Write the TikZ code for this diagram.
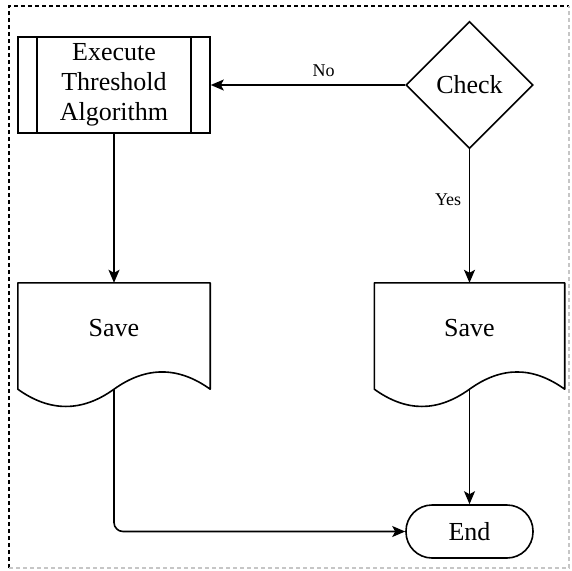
\documentclass[tikz,border=0pt]{standalone}
\usepackage{fontspec}
\setmainfont{Liberation Serif}
\usetikzlibrary{shapes.geometric,arrows.meta}

\tikzset{
  mainfont/.style={font=\fontsize{26}{30}\selectfont},
  box/.style={draw, line width=1.6pt, minimum width=192pt, inner sep=0pt,
    mainfont, align=center},
  docframe/.style={minimum width=192pt, minimum height=106pt, inner sep=0pt},
  doclabel/.style={mainfont},
  decision/.style={draw, diamond, aspect=1, minimum size=127pt, inner sep=0pt,
    line width=1.6pt, mainfont},
  terminal/.style={draw, rounded corners=26pt, minimum width=127pt,
    minimum height=53pt, inner sep=0pt, line width=1.6pt, mainfont},
  arr/.style={line width=1.6pt, -{Stealth[length=13pt,width=11pt,inset=3pt]}},
  edgelabel/.style={font=\fontsize{18}{21}\selectfont, inner sep=4pt},
  docline/.style={line width=1.6pt, line join=round}
}

\begin{document}
\begin{tikzpicture}[x=1pt, y=-1pt]
\useasboundingbox (0,0) rectangle (572,570);

% outer dashed frame
\draw[line width=1.2pt, dash pattern=on 4pt off 3pt] (9,568) -- (9,6) -- (569,6);
\draw[line width=1.2pt, gray!45, dash pattern=on 4pt off 3pt] (9,568) -- (569,568) -- (569,6);

% predefined process
\node[box, minimum height=96pt] (exec) at (114,85) {Execute\\Threshold\\Algorithm};
\draw[line width=1.6pt] ([xshift=20pt]exec.north west) -- ([xshift=20pt]exec.south west);
\draw[line width=1.6pt] ([xshift=-20pt]exec.north east) -- ([xshift=-20pt]exec.south east);

% decision
\node[decision] (check) at (469.5,85) {Check};

% documents
\node[docframe] (saveL) at (114,336) {};
\node[docframe, minimum width=190pt] (saveR) at (469.5,336) {};
\draw[docline] (saveL.north west) -- (saveL.south west)
  .. controls +(32,23) and +(-32,23) .. (saveL.south)
  .. controls +(32,-23) and +(-32,-23) .. (saveL.south east)
  -- (saveL.north east) -- cycle;
\draw[docline] (saveR.north west) -- (saveR.south west)
  .. controls +(32,23) and +(-32,23) .. (saveR.south)
  .. controls +(32,-23) and +(-32,-23) .. (saveR.south east)
  -- (saveR.north east) -- cycle;
\node[doclabel] (saveLtext) at ([yshift=8pt]saveL.center) {Save};
\node[doclabel] (saveRtext) at ([yshift=8pt]saveR.center) {Save};

% terminal
\node[terminal] (end) at (469.5,531.5) {End};

% connectors
\draw[arr] (check.west) -- node[edgelabel, above, pos=0.42, yshift=4pt] {No} (exec.east);
\draw[arr] (check.south) -- node[edgelabel, left, pos=0.375, xshift=-3.5pt] {Yes} (saveR.north);
\draw[arr] (exec.south) -- (saveL.north);
\draw[arr] (saveR.south) -- (end.north);
\draw[arr, rounded corners=9pt] (saveL.south) |- (end.west);
\end{tikzpicture}
\end{document}
